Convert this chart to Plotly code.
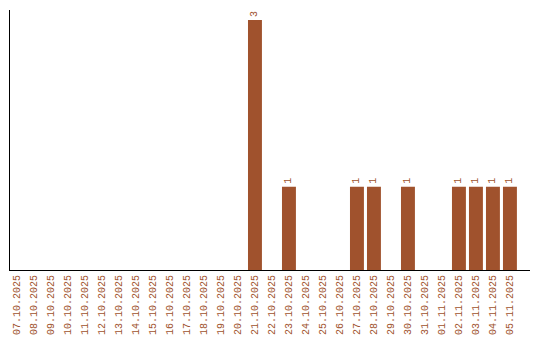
import plotly.graph_objects as go

dates = ["07.10.2025","08.10.2025","09.10.2025","10.10.2025","11.10.2025","12.10.2025",
         "13.10.2025","14.10.2025","15.10.2025","16.10.2025","17.10.2025","18.10.2025",
         "19.10.2025","20.10.2025","21.10.2025","22.10.2025","23.10.2025","24.10.2025",
         "25.10.2025","26.10.2025","27.10.2025","28.10.2025","29.10.2025","30.10.2025",
         "31.10.2025","01.11.2025","02.11.2025","03.11.2025","04.11.2025","05.11.2025"]
counts = [0,0,0,0,0,0,0,0,0,0,0,0,0,0,3,0,1,0,0,0,1,1,0,1,0,0,1,1,1,1]
labels = [str(c) if c > 0 else "" for c in counts]

color = "#A0522D"
font = "Liberation Mono"

fig = go.Figure(go.Bar(
    x=dates, y=counts, marker_color=color, marker_line_width=0,
    text=labels, textposition="outside", textangle=-90,
    textfont=dict(family=font, size=10, color=color),
    cliponaxis=False, hoverinfo="skip",
))
fig.update_layout(
    width=540, height=340,
    margin=dict(l=10, r=10, t=10, b=70, autoexpand=False),
    plot_bgcolor="white", paper_bgcolor="white",
    bargap=0.18, showlegend=False,
    font=dict(family=font, size=10, color=color),
)
fig.update_xaxes(
    type="category", range=[-0.41, 30.18], automargin=False,
    showline=True, linecolor="black", linewidth=1,
    showgrid=False, ticks="", tickangle=-90,
    tickfont=dict(family=font, size=10, color=color),
)
fig.update_yaxes(
    range=[0, 3.12], showline=True, linecolor="black", linewidth=1,
    showgrid=False, zeroline=False, showticklabels=False, ticks="",
    automargin=False,
)
fig.write_html("out.html")
